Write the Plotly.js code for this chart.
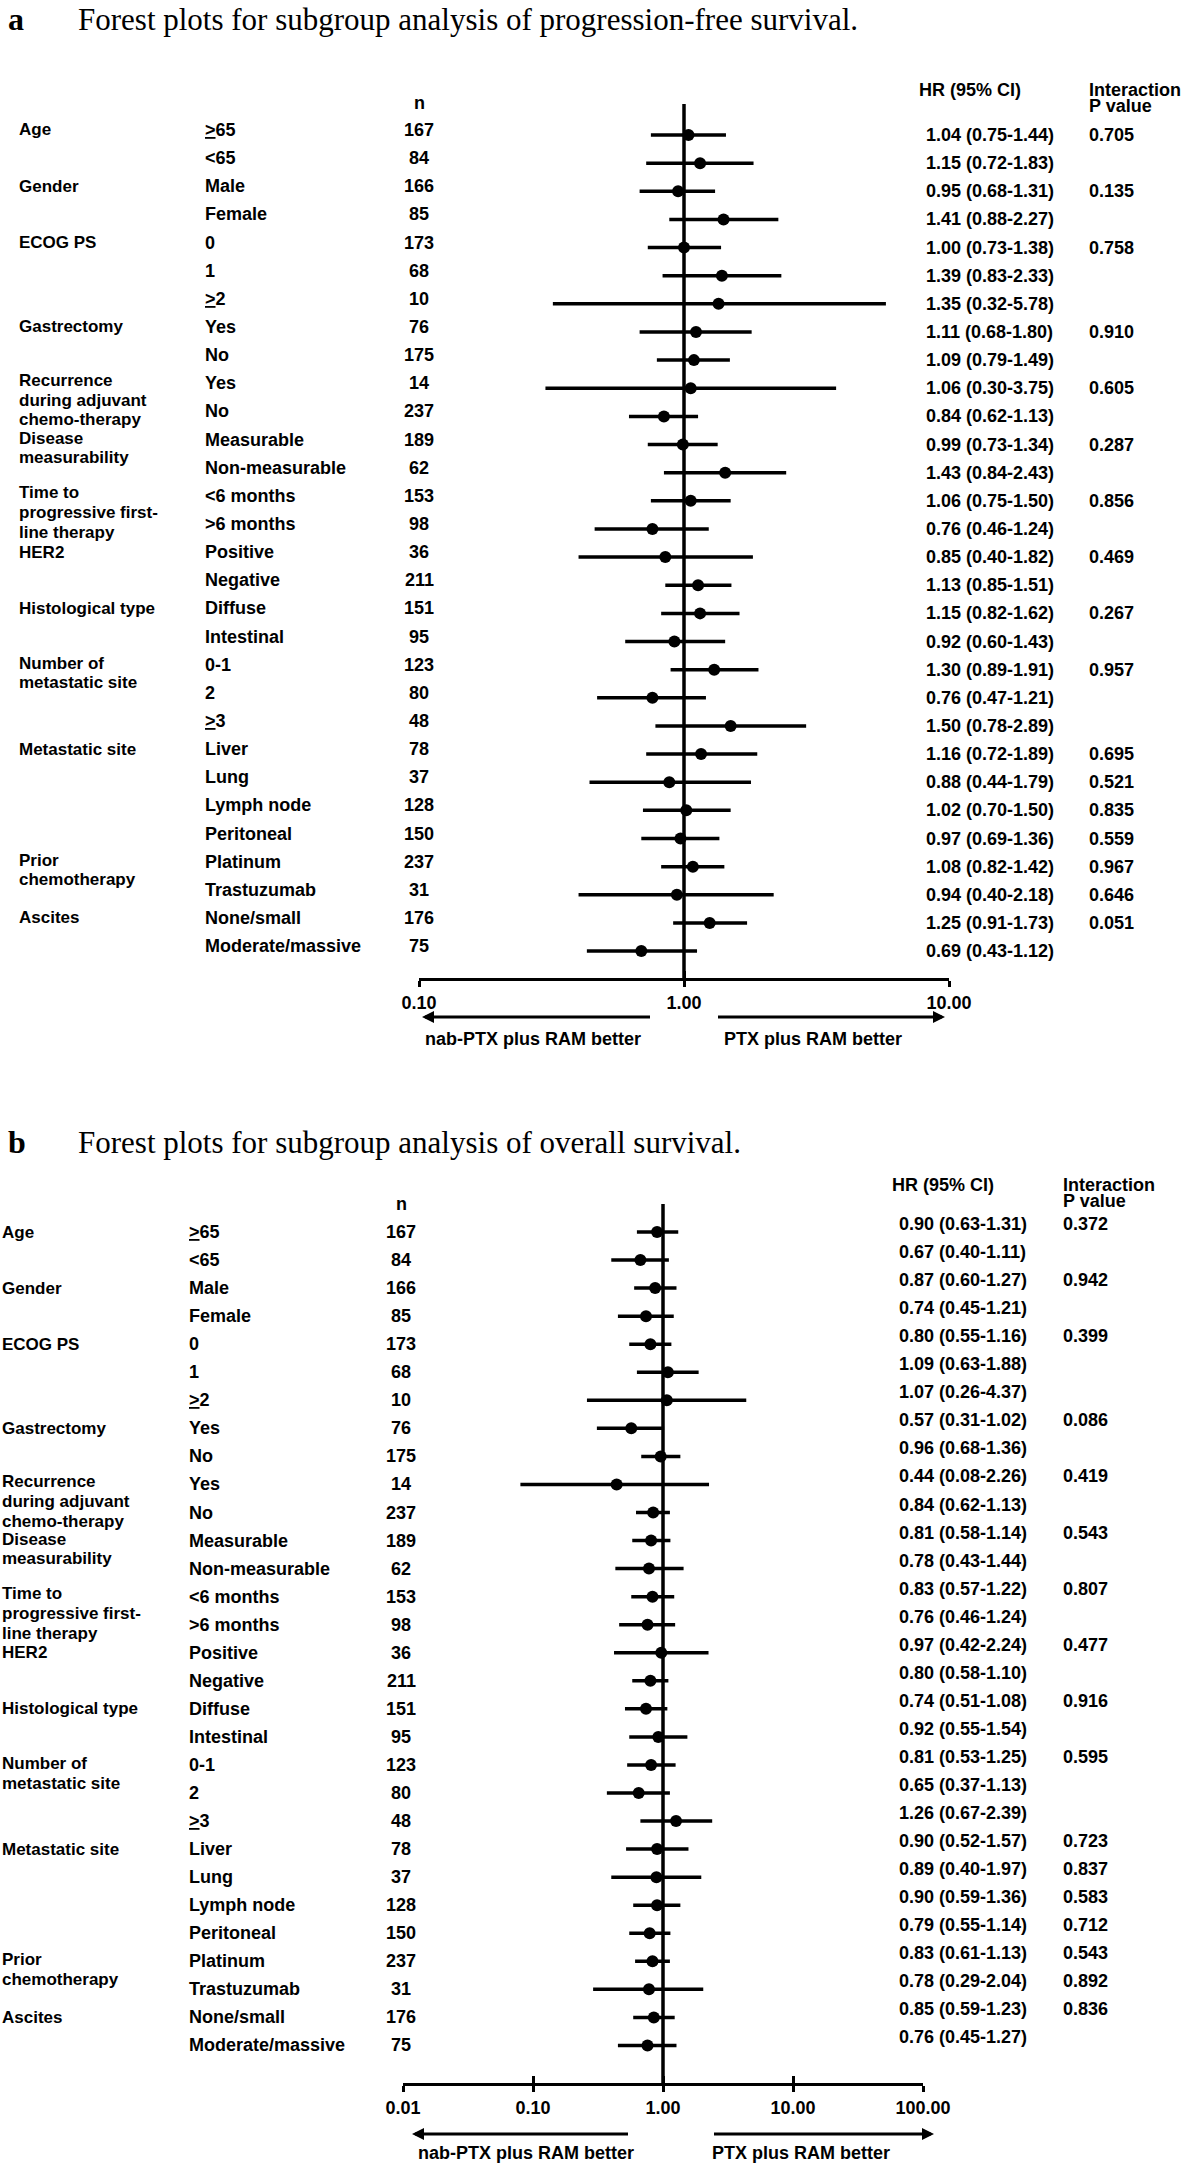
<!DOCTYPE html>
<html>
<head>
<meta charset="utf-8">
<script src="https://cdn.plot.ly/plotly-3.0.1.min.js"></script>
<style>
  html, body { margin: 0; padding: 0; background: #fff; }
  #chart { width: 1181px; height: 2166px; }
</style>
</head>
<body>
<div id="chart"></div>
<script>
const W = 1181
const H = 2166

// row labels, shared by both panels
const categories = [
  ['Age'], ['Gender'], ['ECOG PS'], ['Gastrectomy'],
  ['Recurrence', 'during adjuvant', 'chemo-therapy'],
  ['Disease', 'measurability'],
  ['Time to', 'progressive first-', 'line therapy'],
  ['HER2'], ['Histological type'],
  ['Number of', 'metastatic site'],
  ['Metastatic site'],
  ['Prior', 'chemotherapy'],
  ['Ascites']
]
const groupSizes = [2, 2, 3, 2, 2, 2, 2, 2, 2, 3, 4, 2, 2]
const subgroups = [
  '<u>&gt;</u>65', '&lt;65', 'Male', 'Female', '0', '1', '<u>&gt;</u>2', 'Yes', 'No', 'Yes', 'No',
  'Measurable', 'Non-measurable', '&lt;6 months', '&gt;6 months', 'Positive', 'Negative',
  'Diffuse', 'Intestinal', '0-1', '2', '<u>&gt;</u>3', 'Liver', 'Lung', 'Lymph node', 'Peritoneal',
  'Platinum', 'Trastuzumab', 'None/small', 'Moderate/massive'
]
const nPatients = [167, 84, 166, 85, 173, 68, 10, 76, 175, 14, 237, 189, 62, 153, 98, 36, 211,
  151, 95, 123, 80, 48, 78, 37, 128, 150, 237, 31, 176, 75]

// a: progression-free survival
const hrPfs = [1.04, 1.15, 0.95, 1.41, 1.00, 1.39, 1.35, 1.11, 1.09, 1.06, 0.84, 0.99, 1.43, 1.06, 0.76,
  0.85, 1.13, 1.15, 0.92, 1.30, 0.76, 1.50, 1.16, 0.88, 1.02, 0.97, 1.08, 0.94, 1.25, 0.69]
const loPfs = [0.75, 0.72, 0.68, 0.88, 0.73, 0.83, 0.32, 0.68, 0.79, 0.30, 0.62, 0.73, 0.84, 0.75, 0.46,
  0.40, 0.85, 0.82, 0.60, 0.89, 0.47, 0.78, 0.72, 0.44, 0.70, 0.69, 0.82, 0.40, 0.91, 0.43]
const hiPfs = [1.44, 1.83, 1.31, 2.27, 1.38, 2.33, 5.78, 1.80, 1.49, 3.75, 1.13, 1.34, 2.43, 1.50, 1.24,
  1.82, 1.51, 1.62, 1.43, 1.91, 1.21, 2.89, 1.89, 1.79, 1.50, 1.36, 1.42, 2.18, 1.73, 1.12]
const pPfs = ['0.705', '', '0.135', '', '0.758', '', '', '0.910', '', '0.605', '', '0.287', '', '0.856', '',
  '0.469', '', '0.267', '', '0.957', '', '', '0.695', '0.521', '0.835', '0.559', '0.967', '0.646', '0.051', '']

// b: overall survival
const hrOs = [0.90, 0.67, 0.87, 0.74, 0.80, 1.09, 1.07, 0.57, 0.96, 0.44, 0.84, 0.81, 0.78, 0.83, 0.76,
  0.97, 0.80, 0.74, 0.92, 0.81, 0.65, 1.26, 0.90, 0.89, 0.90, 0.79, 0.83, 0.78, 0.85, 0.76]
const loOs = [0.63, 0.40, 0.60, 0.45, 0.55, 0.63, 0.26, 0.31, 0.68, 0.08, 0.62, 0.58, 0.43, 0.57, 0.46,
  0.42, 0.58, 0.51, 0.55, 0.53, 0.37, 0.67, 0.52, 0.40, 0.59, 0.55, 0.61, 0.29, 0.59, 0.45]
const hiOs = [1.31, 1.11, 1.27, 1.21, 1.16, 1.88, 4.37, 1.02, 1.36, 2.26, 1.13, 1.14, 1.44, 1.22, 1.24,
  2.24, 1.10, 1.08, 1.54, 1.25, 1.13, 2.39, 1.57, 1.97, 1.36, 1.14, 1.13, 2.04, 1.23, 1.27]
const pOs = ['0.372', '', '0.942', '', '0.399', '', '', '0.086', '', '0.419', '', '0.543', '', '0.807', '',
  '0.477', '', '0.916', '', '0.595', '', '', '0.723', '0.837', '0.583', '0.712', '0.543', '0.892', '0.836', '']

const ticksPfs = [0.1, 1, 10]
const tickTextPfs = ['0.10', '1.00', '10.00']
const ticksOs = [0.01, 0.1, 1, 10, 100]
const tickTextOs = ['0.01', '0.10', '1.00', '10.00', '100.00']

const titlePfs = 'Forest plots for subgroup analysis of progression-free survival.'
const titleOs = 'Forest plots for subgroup analysis of overall survival.'
const leftLabel = 'nab-PTX plus RAM better'
const rightLabel = 'PTX plus RAM better'

const black = 'rgb(0,0,0)'
const fontSans = 'Arial, "Liberation Sans", sans-serif'
const fontSerif = '"Times New Roman", "Liberation Serif", serif'
const bodySize = 18
const catSize = 17
const catLeading = 19.8

const px = x => x / W
const py = y => 1 - y / H
const rows = hrPfs.map((_, i) => i)
const fmt = v => v.toFixed(2)

const note = (text, x, y, yref, extra) => Object.assign({
  text: text, x: px(x), xref: 'paper', y: y, yref: yref,
  showarrow: false, xanchor: 'left', yanchor: 'middle', borderpad: 0,
  font: {family: fontSans, size: bodySize, color: black, weight: 700}
}, extra)

const forestTrace = (hr, lo, hi, xaxis, yaxis) => ({
  x: hr,
  y: rows,
  xaxis: xaxis,
  yaxis: yaxis,
  type: 'scatter',
  mode: 'markers',
  marker: {color: black, size: 12},
  error_x: {
    type: 'data',
    symmetric: false,
    array: hi.map((h, i) => h - hr[i]),
    arrayminus: lo.map((l, i) => hr[i] - l),
    color: black,
    thickness: 3.5,
    width: 0
  },
  hoverinfo: 'skip'
})

const panelAnnotations = (p) => {
  const out = []
  let start = 0
  categories.forEach((lines, g) => {
    const lift = (lines.length - 1) * 1.5
    lines.forEach((line, k) => {
      out.push(note(line, p.catX, start, p.yref, {
        yshift: p.labelShift + lift - catLeading * k,
        font: {family: fontSans, size: catSize, color: black, weight: 700}
      }))
    })
    start += groupSizes[g]
  })
  rows.forEach(i => {
    out.push(note(subgroups[i], p.subX, i, p.yref, {yshift: p.labelShift}))
    out.push(note(String(nPatients[i]), p.nX, i, p.yref, {yshift: p.labelShift, xanchor: 'center'}))
    out.push(note(`${fmt(p.hr[i])} (${fmt(p.lo[i])}-${fmt(p.hi[i])})`, p.hrX, i, p.yref, {yshift: p.hrShift}))
    if (p.pv[i]) out.push(note(p.pv[i], p.pX, i, p.yref, {yshift: p.hrShift}))
  })
  // headers
  out.push(note('n', p.nX, py(p.nY), 'paper', {xanchor: 'center'}))
  out.push(note('HR (95% CI)', p.hrHeadX, py(p.headY), 'paper'))
  out.push(note('Interaction', p.pX, py(p.headY), 'paper'))
  out.push(note('P value', p.pX, py(p.headY + 15.5), 'paper'))
  // titles
  out.push(note('<b>' + p.letter + '</b>', 7, py(p.titleY), 'paper',
    {font: {family: fontSerif, size: 32, color: black, weight: 700}}))
  out.push(note(p.title, 77, py(p.titleY), 'paper',
    {font: {family: fontSerif, size: 31, color: black}}))
  // direction arrows and their labels
  out.push({x: px(p.arrowL[0]), y: py(p.arrowY), xref: 'paper', yref: 'paper',
    ax: p.arrowL[1] - p.arrowL[0], ay: 0, showarrow: true, arrowhead: 2, arrowsize: 0.8,
    arrowwidth: 3, arrowcolor: black, standoff: 0, startstandoff: 0})
  out.push({x: px(p.arrowR[1]), y: py(p.arrowY), xref: 'paper', yref: 'paper',
    ax: p.arrowR[0] - p.arrowR[1], ay: 0, showarrow: true, arrowhead: 2, arrowsize: 0.8,
    arrowwidth: 3, arrowcolor: black, standoff: 0, startstandoff: 0})
  out.push(note(leftLabel, p.labelLX, py(p.labelY), 'paper', {xanchor: 'center'}))
  out.push(note(rightLabel, p.labelRX, py(p.labelY), 'paper', {xanchor: 'center'}))
  return out
}

const panelA = {
  yref: 'y', hr: hrPfs, lo: loPfs, hi: hiPfs, pv: pPfs,
  catX: 18, subX: 204, nX: 419, hrX: 925, hrHeadX: 918, pX: 1088,
  labelShift: 5, hrShift: 0, nY: 103, headY: 90,
  letter: 'a', title: titlePfs, titleY: 19.5,
  arrowY: 1017, arrowL: [422, 653], arrowR: [715, 945],
  labelY: 1039, labelLX: 533, labelRX: 813
}
const panelB = {
  yref: 'y2', hr: hrOs, lo: loOs, hi: hiOs, pv: pOs,
  catX: 1, subX: 188, nX: 401, hrX: 898, hrHeadX: 891, pX: 1062,
  labelShift: 0, hrShift: 8, nY: 1204, headY: 1185,
  letter: 'b', title: titleOs, titleY: 1142,
  arrowY: 2134, arrowL: [412, 631], arrowR: [711, 934],
  labelY: 2153, labelLX: 526, labelRX: 801
}

const data = [
  forestTrace(hrPfs, loPfs, hiPfs, 'x', 'y'),
  forestTrace(hrOs, loOs, hiOs, 'x2', 'y2'),
  {x: [], y: [], xaxis: 'x3', yaxis: 'y', type: 'scatter', mode: 'markers'},
  {x: [], y: [], xaxis: 'x4', yaxis: 'y2', type: 'scatter', mode: 'markers'}
]

const tickFont = {family: fontSans, size: bodySize, color: black, weight: 700}
const mainAxis = (domain, range, tickvals, ticktext, anchor) => ({
  type: 'log', domain: domain, range: range, anchor: anchor,
  tickvals: tickvals, ticktext: ticktext, tickfont: tickFont,
  ticks: 'outside', ticklen: 6, tickwidth: 3, tickcolor: black,
  showline: true, linewidth: 3, linecolor: black,
  showgrid: false, zeroline: false, ticklabelstandoff: 0, fixedrange: true
})
const capAxis = (over, range, tickvals, anchor) => ({
  type: 'log', overlaying: over, range: range, anchor: anchor,
  tickvals: tickvals, ticks: 'inside', ticklen: 7, tickwidth: 3, tickcolor: black,
  showticklabels: false, showline: false, showgrid: false, zeroline: false
})
const rowAxis = (domain, range) => ({
  domain: domain, range: range, visible: false, showgrid: false, zeroline: false, fixedrange: true
})

const layout = {
  width: W,
  height: H,
  margin: {l: 0, r: 0, t: 0, b: 0},
  paper_bgcolor: 'white',
  plot_bgcolor: 'white',
  showlegend: false,
  xaxis: mainAxis([px(419), px(949)], [-1, 1], ticksPfs, tickTextPfs, 'y'),
  yaxis: rowAxis([py(978), py(104)], [(978 - 135) / 28.14, (104 - 135) / 28.14]),
  xaxis2: mainAxis([px(403), px(923)], [-2, 2], ticksOs, tickTextOs, 'y2'),
  yaxis2: rowAxis([py(2083), py(1204)], [(2083 - 1232) / 28.05, (1204 - 1232) / 28.05]),
  xaxis3: capAxis('x', [-1, 1], ticksPfs, 'y'),
  xaxis4: capAxis('x2', [-2, 2], ticksOs, 'y2'),
  shapes: [
    {type: 'line', xref: 'x', yref: 'y domain', x0: 1, x1: 1, y0: 0, y1: 1, line: {color: black, width: 3.5}},
    {type: 'line', xref: 'x2', yref: 'y2 domain', x0: 1, x1: 1, y0: 0, y1: 1, line: {color: black, width: 3.5}}
  ],
  annotations: panelAnnotations(panelA).concat(panelAnnotations(panelB))
}

Plotly.newPlot('chart', data, layout, {staticPlot: true})
</script>
</body>
</html>
